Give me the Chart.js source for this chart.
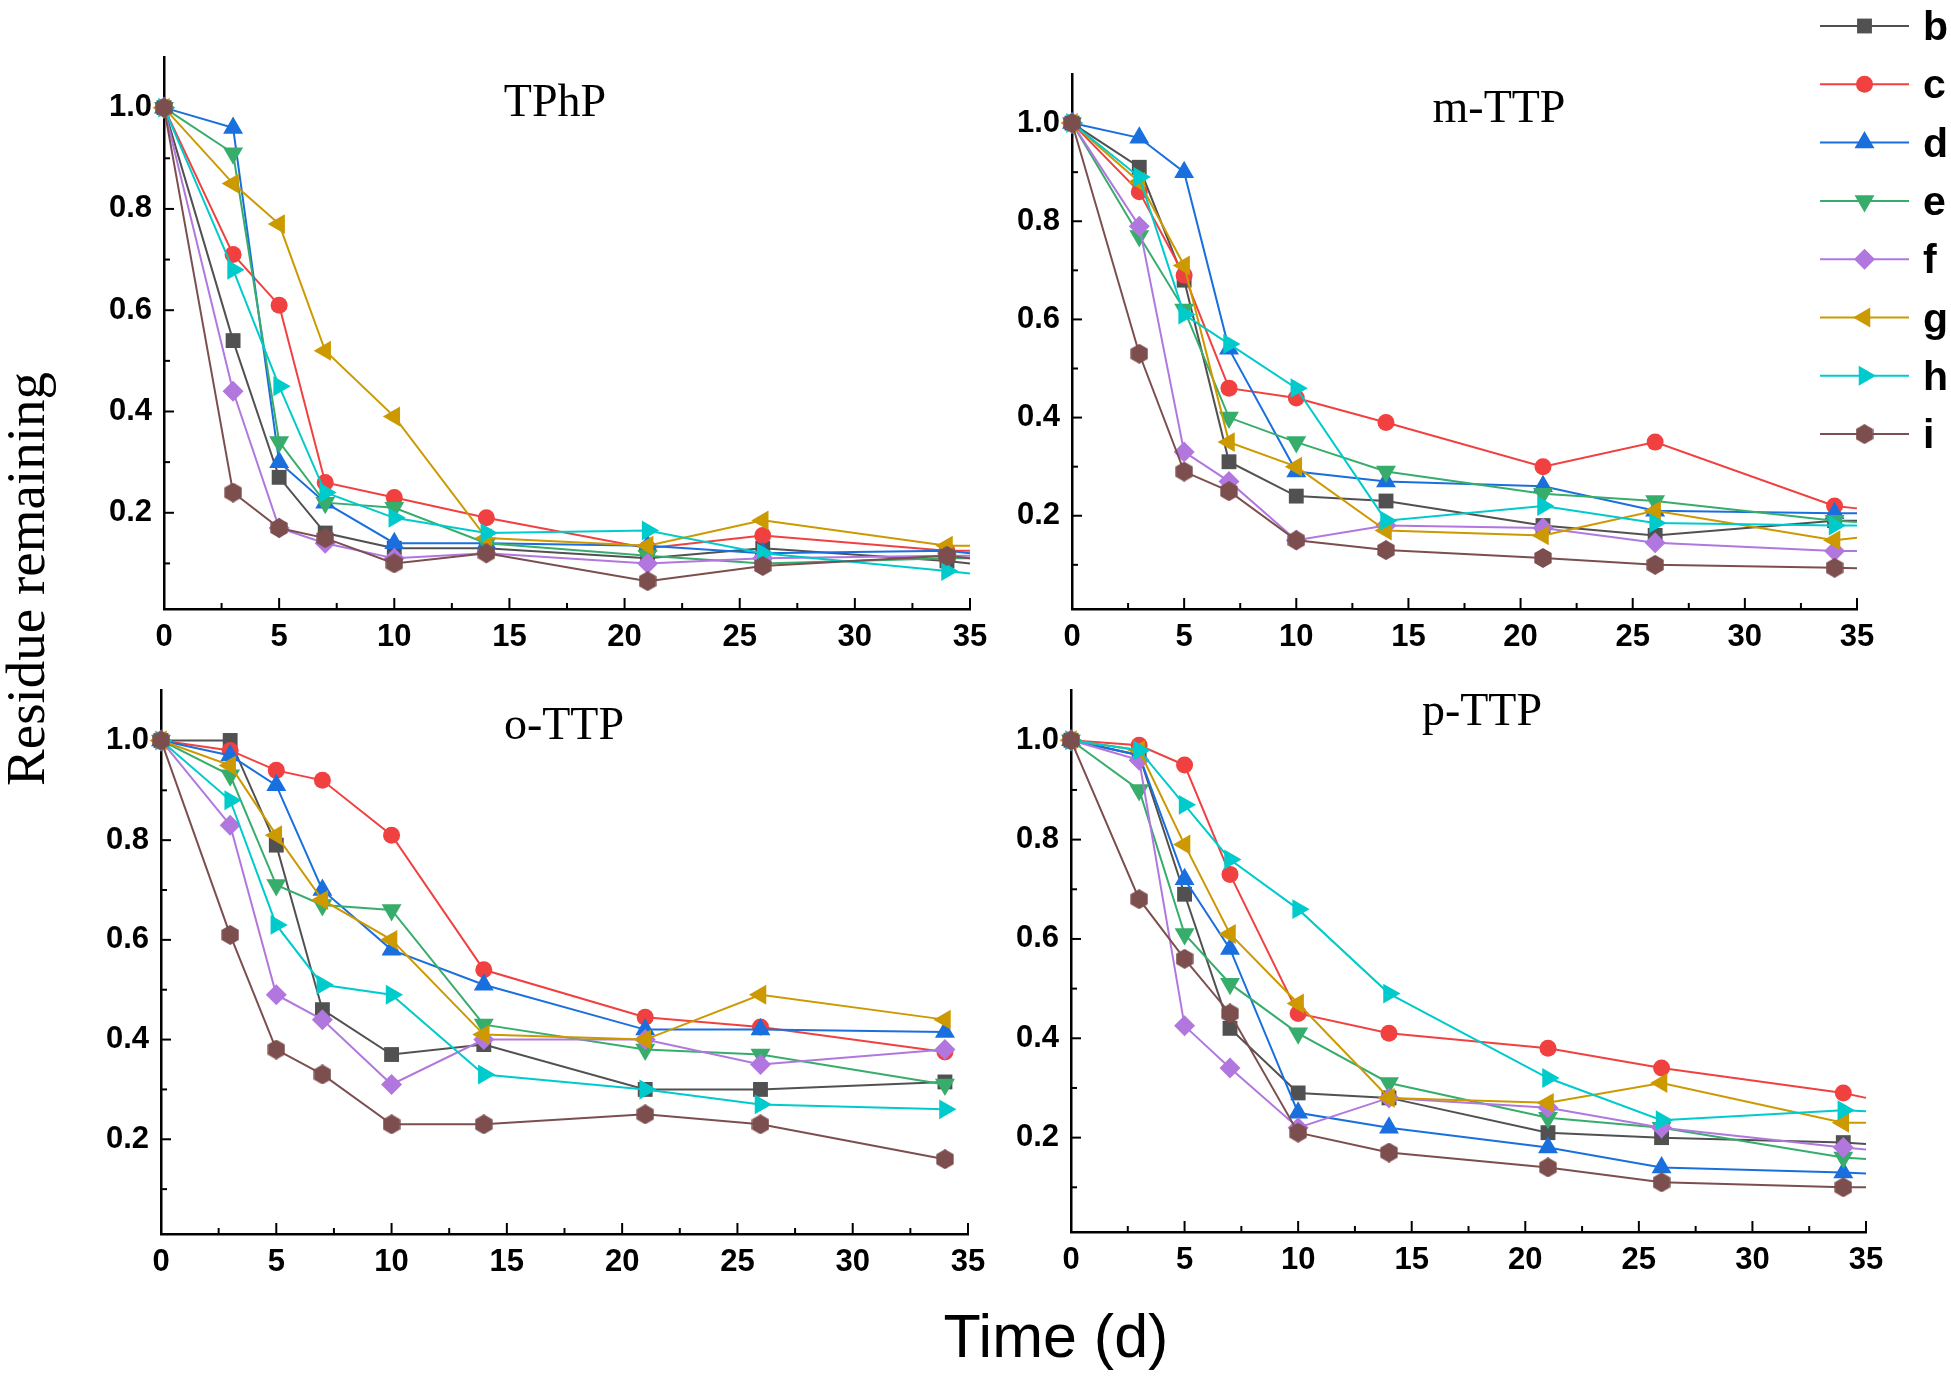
<!DOCTYPE html>
<html>
<head>
  <meta charset="utf-8">
  <script src="https://cdn.jsdelivr.net/npm/chart.js"></script>
  <style>
    body { margin: 0; background: #fff; }
    #fig { position: relative; width: 1951px; height: 1378px; overflow: hidden; background: #fff; }
    .panel { position: absolute; }
    #ytitle {
      position: absolute; left: -274px; top: 549px; width: 600px; height: 60px;
      line-height: 60px; text-align: center; white-space: nowrap;
      font-family: "Liberation Serif", "Times New Roman", serif; font-size: 55px; color: #000;
      transform: rotate(-90deg);
    }
    #xtitle {
      position: absolute; left: 756px; top: 1306px; width: 600px; height: 61px;
      line-height: 61px; text-align: center; white-space: nowrap;
      font-family: "Liberation Sans", Arial, sans-serif; font-size: 61px; color: #000;
    }
  </style>
</head>
<body>
  <div id="fig">
    <div class="panel" style="left:0;top:0;width:1000px;height:660px"><canvas id="chartTPhP"></canvas></div>
    <div class="panel" style="left:1000px;top:0;width:951px;height:660px"><canvas id="chartMTTP"></canvas></div>
    <div class="panel" style="left:0;top:660px;width:1000px;height:718px"><canvas id="chartOTTP"></canvas></div>
    <div class="panel" style="left:1000px;top:660px;width:951px;height:718px"><canvas id="chartPTTP"></canvas></div>
    <div id="ytitle">Residue remaining</div>
    <div id="xtitle">Time (d)</div>
  </div>
<script>
"use strict";

// sampling days (the last one, 35, only carries the line end, no marker)
const days = [0, 3, 5, 7, 10, 14, 21, 26, 34, 35];
const seriesNames = ['b', 'c', 'd', 'e', 'f', 'g', 'h', 'i'];
const xTickValues = [0, 5, 10, 15, 20, 25, 30, 35];
const yTickValues = [0.2, 0.4, 0.6, 0.8, 1.0];

// rows follow seriesNames: b, c, d, e, f, g, h, i
const tphpValues = [
  [1.0, 0.54, 0.27, 0.16, 0.13, 0.13, 0.11, 0.13, 0.105, 0.10],
  [1.0, 0.71, 0.61, 0.26, 0.23, 0.19, 0.13, 0.155, 0.125, 0.125],
  [1.0, 0.96, 0.30, 0.22, 0.14, 0.14, 0.135, 0.12, 0.125, 0.12],
  [1.0, 0.91, 0.34, 0.22, 0.21, 0.14, 0.115, 0.10, 0.11, 0.11],
  [1.0, 0.44, 0.17, 0.14, 0.11, 0.12, 0.10, 0.11, 0.115, 0.115],
  [1.0, 0.85, 0.77, 0.52, 0.39, 0.15, 0.135, 0.185, 0.135, 0.135],
  [1.0, 0.68, 0.45, 0.24, 0.19, 0.16, 0.165, 0.12, 0.085, 0.08],
  [1.0, 0.24, 0.17, 0.15, 0.10, 0.12, 0.065, 0.095, 0.115, 0.11]
];
const mttpValues = [
  [1.0, 0.91, 0.68, 0.31, 0.24, 0.23, 0.18, 0.16, 0.19, 0.19],
  [1.0, 0.86, 0.69, 0.46, 0.44, 0.39, 0.30, 0.35, 0.22, 0.215],
  [1.0, 0.97, 0.90, 0.54, 0.29, 0.27, 0.26, 0.21, 0.205, 0.205],
  [1.0, 0.77, 0.62, 0.40, 0.35, 0.29, 0.245, 0.23, 0.19, 0.187],
  [1.0, 0.79, 0.33, 0.27, 0.15, 0.18, 0.175, 0.145, 0.128, 0.128],
  [1.0, 0.88, 0.71, 0.35, 0.30, 0.17, 0.16, 0.21, 0.15, 0.155],
  [1.0, 0.89, 0.61, 0.55, 0.46, 0.19, 0.22, 0.185, 0.18, 0.18],
  [1.0, 0.53, 0.29, 0.25, 0.15, 0.13, 0.114, 0.10, 0.094, 0.093]
];
const ottpValues = [
  [1.0, 1.0, 0.79, 0.46, 0.37, 0.39, 0.30, 0.30, 0.315],
  [1.0, 0.98, 0.94, 0.92, 0.81, 0.54, 0.445, 0.425, 0.375],
  [1.0, 0.97, 0.91, 0.70, 0.58, 0.51, 0.42, 0.42, 0.415],
  [1.0, 0.93, 0.71, 0.67, 0.66, 0.43, 0.38, 0.37, 0.31],
  [1.0, 0.83, 0.49, 0.44, 0.31, 0.40, 0.40, 0.35, 0.38],
  [1.0, 0.95, 0.81, 0.68, 0.60, 0.41, 0.40, 0.49, 0.44],
  [1.0, 0.88, 0.63, 0.51, 0.49, 0.33, 0.30, 0.27, 0.26],
  [1.0, 0.61, 0.38, 0.33, 0.23, 0.23, 0.25, 0.23, 0.16]
];
const pttpValues = [
  [1.0, 0.97, 0.69, 0.42, 0.29, 0.28, 0.21, 0.20, 0.19, 0.187],
  [1.0, 0.99, 0.95, 0.73, 0.45, 0.41, 0.38, 0.34, 0.29, 0.28],
  [1.0, 0.97, 0.72, 0.58, 0.25, 0.22, 0.18, 0.14, 0.13, 0.128],
  [1.0, 0.90, 0.61, 0.51, 0.41, 0.31, 0.24, 0.22, 0.16, 0.157],
  [1.0, 0.96, 0.425, 0.34, 0.22, 0.28, 0.26, 0.22, 0.18, 0.176],
  [1.0, 0.98, 0.79, 0.61, 0.47, 0.28, 0.27, 0.31, 0.23, 0.23],
  [1.0, 0.98, 0.87, 0.76, 0.66, 0.49, 0.32, 0.235, 0.255, 0.253],
  [1.0, 0.68, 0.56, 0.45, 0.21, 0.17, 0.14, 0.11, 0.10, 0.10]
];

// Origin-like colours and symbols
const seriesColors = ['#515151', '#F14040', '#1A6FDF', '#37AD6B', '#B177DE', '#CC9900', '#00CBCC', '#7D4E4E'];
const markerRadii = [10.5, 8.5, 11.5, 11.5, 10.5, 11.5, 11.5, 10];
const markerRotations = [0, 0, 0, 180, 0, 270, 90, 0];

function hexagon(color) {
  const c = document.createElement('canvas');
  c.width = 18;
  c.height = 20;
  const g = c.getContext('2d');
  g.fillStyle = color;
  g.beginPath();
  for (let k = 0; k < 6; k++) {
    const a = (60 * k - 90) * Math.PI / 180;
    const px = 9 + 10 * Math.cos(a);
    const py = 10 + 10 * Math.sin(a);
    if (k === 0) g.moveTo(px, py); else g.lineTo(px, py);
  }
  g.closePath();
  g.fill();
  return c;
}
const markerStyles = ['rect', 'circle', 'triangle', 'triangle', 'rectRot', 'triangle', 'triangle', hexagon(seriesColors[7])];

const tickFont = { family: "'Liberation Sans', Arial, sans-serif", weight: 'bold', size: 31 };

// ticks point into the plot, Origin style
const inwardTicks = {
  id: 'inwardTicks',
  beforeDatasetsDraw(chart) {
    const { ctx, chartArea, scales: { x, y } } = chart;
    ctx.save();
    ctx.strokeStyle = '#000';
    ctx.lineWidth = 2;
    const line = (x1, y1, x2, y2) => {
      ctx.beginPath();
      ctx.moveTo(x1, y1);
      ctx.lineTo(x2, y2);
      ctx.stroke();
    };
    xTickValues.forEach((v, k) => {
      const px = x.getPixelForValue(v);
      line(px, chartArea.bottom, px, chartArea.bottom - 11);
      if (k > 0) {
        const pm = x.getPixelForValue(v - 2.5);
        line(pm, chartArea.bottom, pm, chartArea.bottom - 6);
      }
    });
    yTickValues.forEach(v => {
      const py = y.getPixelForValue(v);
      line(chartArea.left, py, chartArea.left + 10, py);
      const pm = y.getPixelForValue(v - 0.1);
      line(chartArea.left, pm, chartArea.left + 6, pm);
    });
    ctx.restore();
  }
};

const panelLabel = {
  id: 'panelLabel',
  afterDatasetsDraw(chart, args, opts) {
    const ctx = chart.ctx;
    ctx.save();
    ctx.fillStyle = '#000';
    ctx.font = "46px 'Liberation Serif', 'Times New Roman', serif";
    ctx.textAlign = 'center';
    ctx.textBaseline = 'alphabetic';
    ctx.fillText(opts.text, opts.x, opts.y);
    ctx.restore();
  }
};

const sideLegend = {
  id: 'sideLegend',
  afterDraw(chart, args, opts) {
    if (!opts.show) return;
    const ctx = chart.ctx;
    ctx.save();
    chart.data.datasets.forEach((ds, k) => {
      const y = opts.top + k * opts.step;
      ctx.strokeStyle = ds.borderColor;
      ctx.lineWidth = 2;
      ctx.beginPath();
      ctx.moveTo(opts.x0, y);
      ctx.lineTo(opts.x1, y);
      ctx.stroke();
      ctx.fillStyle = ds.backgroundColor;
      Chart.helpers.drawPoint(ctx, {
        pointStyle: markerStyles[k], rotation: markerRotations[k],
        radius: markerRadii[k], borderWidth: 0
      }, (opts.x0 + opts.x1) / 2, y);
      ctx.fillStyle = '#000';
      ctx.font = "bold 41px 'Liberation Sans', Arial, sans-serif";
      ctx.textAlign = 'left';
      ctx.textBaseline = 'alphabetic';
      ctx.fillText(ds.label, opts.textX, y + 14);
    });
    ctx.restore();
  }
};

function buildDatasets(rows) {
  return rows.map((vals, k) => ({
    label: seriesNames[k],
    data: vals.map((v, j) => ({ x: days[j], y: v })),
    borderColor: seriesColors[k],
    backgroundColor: seriesColors[k],
    borderWidth: 2,
    pointStyle: markerStyles[k],
    pointRotation: markerRotations[k],
    pointRadius: c => (c.dataIndex === 9 ? 0 : markerRadii[k]),
    pointBorderWidth: 0,
    pointHoverRadius: c => (c.dataIndex === 9 ? 0 : markerRadii[k]),
    tension: 0,
    clip: false,
    order: 8 - k
  }));
}

function makeChart(id, rows, label, padding, legend) {
  return new Chart(document.getElementById(id), {
    type: 'line',
    data: { datasets: buildDatasets(rows) },
    plugins: [inwardTicks, panelLabel, sideLegend],
    options: {
      responsive: true,
      maintainAspectRatio: false,
      animation: false,
      events: [],
      layout: { padding: padding },
      plugins: {
        legend: { display: false },
        tooltip: { enabled: false },
        panelLabel: label,
        sideLegend: legend || { show: false }
      },
      scales: {
        x: {
          type: 'linear', min: 0, max: 35,
          grid: { display: true, drawOnChartArea: false, drawTicks: false },
          border: { display: true, color: '#000', width: 2.5 },
          afterBuildTicks: s => { s.ticks = xTickValues.map(v => ({ value: v })); },
          afterFit: s => { s.height = 45; },
          ticks: { color: '#000', font: tickFont, padding: 10, maxRotation: 0, autoSkip: false, callback: v => String(v) }
        },
        y: {
          type: 'linear', min: 0.01, max: 1.1,
          grid: { display: true, drawOnChartArea: false, drawTicks: false },
          border: { display: true, color: '#000', width: 2.5 },
          afterBuildTicks: s => { s.ticks = yTickValues.map(v => ({ value: v })); },
          afterFit: s => { s.width = 70; },
          ticks: { color: '#000', font: tickFont, padding: 12, autoSkip: false, callback: v => v.toFixed(1) }
        }
      }
    }
  });
}

makeChart('chartTPhP', tphpValues, { text: 'TPhP', x: 555, y: 116 },
  { left: 94, right: 30, top: 57, bottom: 6 });
makeChart('chartMTTP', mttpValues, { text: 'm-TTP', x: 499, y: 122 },
  { left: 2, right: 94, top: 74, bottom: 6 },
  { show: true, x0: 820, x1: 909, top: 26, step: 58.3, textX: 923 });
makeChart('chartOTTP', ottpValues, { text: 'o-TTP', x: 564, y: 79 },
  { left: 91, right: 32, top: 23.5, bottom: 99 });
makeChart('chartPTTP', pttpValues, { text: 'p-TTP', x: 482, y: 65 },
  { left: 1, right: 85, top: 24, bottom: 101 });
</script>
</body>
</html>
